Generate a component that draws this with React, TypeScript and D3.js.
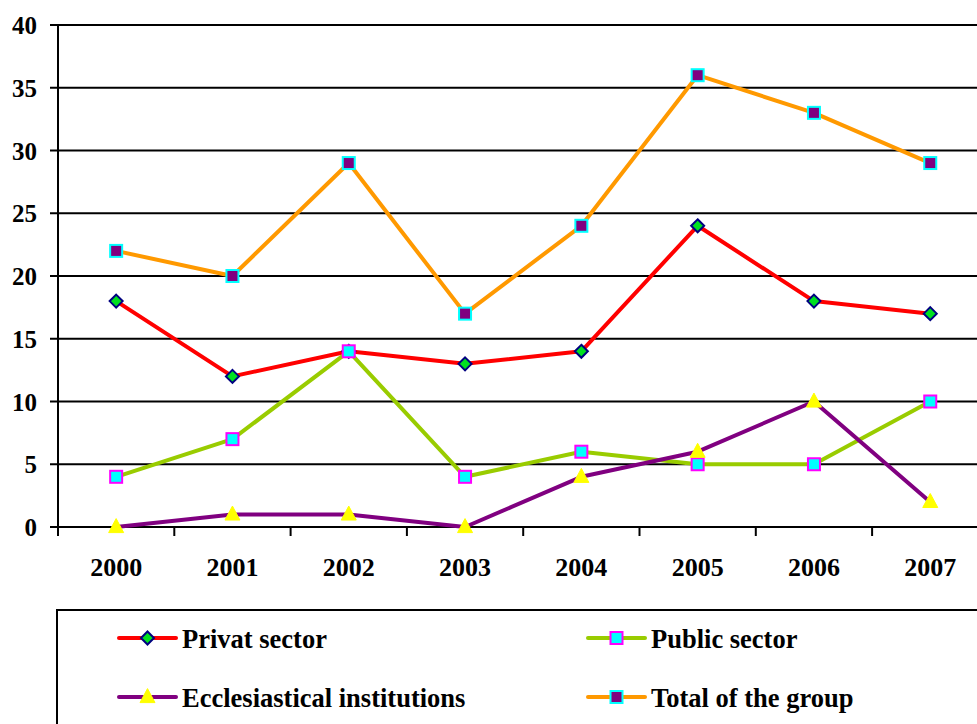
import React from "react";
import * as d3 from "d3";

// Yearly counts by sector
const years = ["2000", "2001", "2002", "2003", "2004", "2005", "2006", "2007"];
const privatSector = [18, 12, 14, 13, 14, 24, 18, 17];
const publicSector = [4, 7, 14, 4, 6, 5, 5, 10];
const ecclesiastical = [0, 1, 1, 0, 4, 6, 10, 2];
const totalGroup = [22, 20, 29, 17, 24, 36, 33, 29];
const yTicks = [0, 5, 10, 15, 20, 25, 30, 35, 40];

type MarkerKind = "diamond" | "square" | "triangle";
interface Series {
  name: string;
  values: number[];
  color: string;
  marker: MarkerKind;
  fill: string;
  stroke: string;
}

const series: Series[] = [
  { name: "Privat sector", values: privatSector, color: "#FF0000", marker: "diamond", fill: "#00E020", stroke: "#000080" },
  { name: "Public sector", values: publicSector, color: "#99CC00", marker: "square", fill: "#00FFFF", stroke: "#FF00FF" },
  { name: "Ecclesiastical institutions", values: ecclesiastical, color: "#800080", marker: "triangle", fill: "#FFFF00", stroke: "#FFFF00" },
  { name: "Total of the group", values: totalGroup, color: "#FF9900", marker: "square", fill: "#800080", stroke: "#00FFFF" },
];

const W = 977;
const H = 724;
const left = 58;
const top = 25;
const bottom = 527;
const band = 116.3;
const textStyle: React.CSSProperties = {
  fontFamily: '"Liberation Serif", "Times New Roman", serif',
  fontWeight: 700,
};

function Marker({ kind, x, y, fill, stroke }: { kind: MarkerKind; x: number; y: number; fill: string; stroke: string }) {
  if (kind === "diamond") {
    const r = 6.5;
    return (
      <path
        d={`M${x},${y - r}L${x + r},${y}L${x},${y + r}L${x - r},${y}Z`}
        fill={fill}
        stroke={stroke}
        strokeWidth={2}
      />
    );
  }
  if (kind === "square") {
    const s = 12;
    return <rect x={x - s / 2} y={y - s / 2} width={s} height={s} fill={fill} stroke={stroke} strokeWidth={2} />;
  }
  const w = 15;
  const h = 14;
  return (
    <path
      d={`M${x},${y - h * 0.6}L${x + w / 2},${y + h * 0.4}L${x - w / 2},${y + h * 0.4}Z`}
      fill={fill}
      stroke={stroke}
      strokeWidth={1}
    />
  );
}

export default function App() {
  const x = d3.scaleBand<string>().domain(years).range([left, left + band * years.length]);
  const y = d3.scaleLinear().domain([0, 40]).range([bottom, top]);
  const cx = (yr: string) => (x(yr) ?? 0) + x.bandwidth() / 2;
  const line = d3
    .line<number>()
    .x((_, i) => cx(years[i]))
    .y((v) => y(v));

  const legendCols = [119, 588];
  const legendRows = [638, 697];

  return (
    <svg
      width={W}
      height={H}
      style={{ position: "absolute", left: 0, top: 0, background: "#fff" }}
    >
      {/* horizontal grid lines */}
      {yTicks.map((t) => (
        <line key={t} x1={left - 8} x2={left + band * years.length} y1={y(t)} y2={y(t)} stroke="#000" strokeWidth={2} />
      ))}
      {/* y axis */}
      <line x1={left} x2={left} y1={top} y2={bottom} stroke="#000" strokeWidth={2} />
      {yTicks.map((t) => (
        <text key={t} x={37} y={y(t) + 9} textAnchor="end" fontSize={25} style={textStyle}>
          {t}
        </text>
      ))}
      {/* x ticks and labels */}
      {d3.range(years.length + 1).map((i) => (
        <line key={i} x1={left + i * band} x2={left + i * band} y1={bottom} y2={bottom + 9} stroke="#000" strokeWidth={2} />
      ))}
      {years.map((yr) => (
        <text key={yr} x={cx(yr)} y={576} textAnchor="middle" fontSize={26} style={textStyle}>
          {yr}
        </text>
      ))}
      {/* series */}
      {series.map((s) => (
        <g key={s.name}>
          <path d={line(s.values) ?? ""} fill="none" stroke={s.color} strokeWidth={4} strokeLinejoin="round" />
          {s.values.map((v, i) => (
            <Marker key={i} kind={s.marker} x={cx(years[i])} y={y(v)} fill={s.fill} stroke={s.stroke} />
          ))}
        </g>
      ))}
      {/* legend */}
      <rect x={57} y={610} width={W} height={H} fill="none" stroke="#000" strokeWidth={2} />
      {series.map((s, i) => {
        const lx = legendCols[i % 2];
        const ly = legendRows[Math.floor(i / 2)];
        return (
          <g key={s.name}>
            <line x1={lx} x2={lx + 57} y1={ly} y2={ly} stroke={s.color} strokeWidth={4} strokeLinecap="round" />
            <Marker kind={s.marker} x={lx + 28.5} y={ly} fill={s.fill} stroke={s.stroke} />
            <text x={lx + 63} y={ly + 10} fontSize={26.5} style={textStyle}>
              {s.name}
            </text>
          </g>
        );
      })}
    </svg>
  );
}
